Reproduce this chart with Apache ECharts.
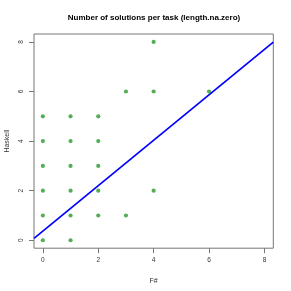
<!DOCTYPE html>
<html><head><meta charset="utf-8">
<script src="https://cdn.jsdelivr.net/npm/echarts@6/dist/echarts.min.js"></script>
<style>html,body{margin:0;padding:0;background:#fff}#c{width:291px;height:291px}</style>
</head><body><div id="c"></div>
<script>
var titleText = 'Number of solutions per task (length.na.zero)';
var xName = 'F#';
var yName = 'Haskell';
var xTicks = [0, 2, 4, 6, 8];
var yTicks = [0, 2, 4, 6, 8];
var fsharp  = [0,0,0,0,0,0, 1,1,1,1,1,1, 2,2,2,2,2, 3,3, 4,4,4, 6];
var haskell = [0,1,2,3,4,5, 0,1,2,3,4,5, 1,2,3,4,5, 1,6, 2,6,8, 6];
var lineX = [-0.32, 8.32];
var lineY = [0.08, 7.99];

var pts = fsharp.map(function(x, i){ return [x, haskell[i]]; });
var linePts = lineX.map(function(x, i){ return [x, lineY[i]]; });
var font = 'Liberation Sans, Arial, sans-serif';
var chart = echarts.init(document.getElementById('c'), null, {renderer:'canvas'});
chart.setOption({
  animation: false,
  backgroundColor: '#fff',
  graphic: [{type:'text', x:154, y:18, style:{text:titleText, fontFamily:font, fontWeight:'bold', fontSize:8, fill:'#000', align:'center', verticalAlign:'middle'}}],
  grid: {left:34, right:17.7, top:34, bottom:42.8, containLabel:false, outerBoundsMode:'none', show:true, borderColor:'#777', borderWidth:1, backgroundColor:'transparent'},
  xAxis: {type:'value', min:-0.32, max:8.32, name:xName, nameLocation:'middle', nameGap:29,
    nameTextStyle:{fontFamily:font, fontSize:7, color:'#333'},
    axisLine:{show:false, onZero:false}, splitLine:{show:false},
    axisTick:{show:true, length:5, customValues:xTicks, lineStyle:{color:'#777'}},
    axisLabel:{customValues:xTicks, fontFamily:font, fontSize:6.5, color:'#333', margin:9}},
  yAxis: {type:'value', min:-0.32, max:8.32, name:yName, nameLocation:'middle', nameGap:23,
    nameTextStyle:{fontFamily:font, fontSize:7, color:'#333'},
    axisLine:{show:false, onZero:false}, splitLine:{show:false},
    axisTick:{show:true, length:5, customValues:yTicks, lineStyle:{color:'#777'}},
    axisLabel:{customValues:yTicks, rotate:90, fontFamily:font, fontSize:6.5, color:'#333', margin:9}},
  series: [
    {type:'scatter', data:pts, symbol:'circle', symbolSize:4.2, itemStyle:{color:'#2a9a2a'}, z:3},
    {type:'line', data:linePts, showSymbol:false, symbol:'none', lineStyle:{color:'#0000ff', width:1.7}, z:4}
  ]
});
</script></body></html>
